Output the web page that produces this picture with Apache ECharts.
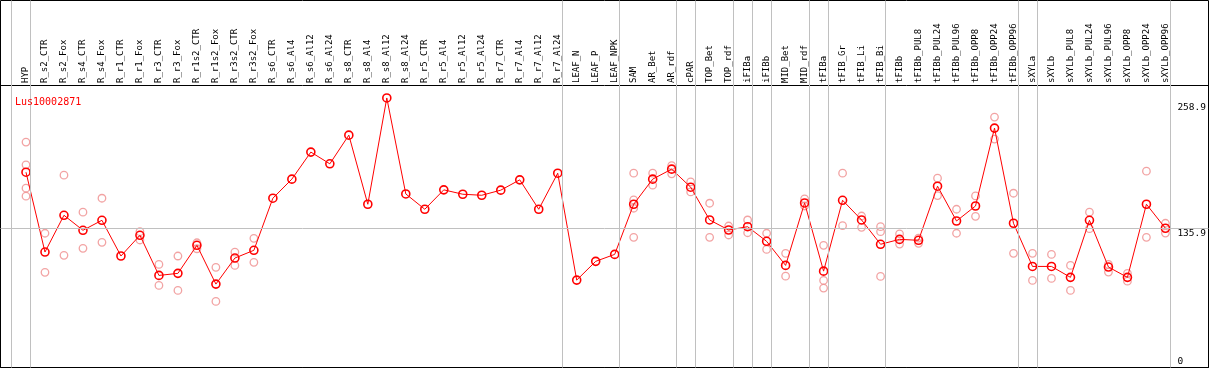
<!DOCTYPE html>
<html>
<head>
<meta charset="utf-8">
<script src="https://cdn.jsdelivr.net/npm/echarts@6/dist/echarts.min.js"></script>
<style>
html,body{margin:0;padding:0;background:#fff;}
#chart{width:1209px;height:370px;}
</style>
</head>
<body>
<div id="chart"></div>
<script>
const geneName = 'Lus10002871';
const categories = ['HYP','R_s2_CTR','R_s2_Fox','R_s4_CTR','R_s4_Fox','R_r1_CTR','R_r1_Fox','R_r3_CTR','R_r3_Fox','R_r1s2_CTR','R_r1s2_Fox','R_r3s2_CTR','R_r3s2_Fox','R_s6_CTR','R_s6_Al4','R_s6_Al12','R_s6_Al24','R_s8_CTR','R_s8_Al4','R_s8_Al12','R_s8_Al24','R_r5_CTR','R_r5_Al4','R_r5_Al12','R_r5_Al24','R_r7_CTR','R_r7_Al4','R_r7_Al12','R_r7_Al24','LEAF_N','LEAF_P','LEAF_NPK','SAM','AR_Bet','AR_rdf','cPAR','TOP_Bet','TOP_rdf','iFIBa','iFIBb','MID_Bet','MID_rdf','tFIBa','tFIB_Gr','tFIB_Li','tFIB_Bi','tFIBb','tFIBb_PUL8','tFIBb_PUL24','tFIBb_PUL96','tFIBb_OPP8','tFIBb_OPP24','tFIBb_OPP96','sXYLa','sXYLb','sXYLb_PUL8','sXYLb_PUL24','sXYLb_PUL96','sXYLb_OPP8','sXYLb_OPP24','sXYLb_OPP96'];
const means = [190.8,112.6,148.6,133.9,143.7,108.7,129.0,89.7,91.7,119.2,81.2,106.7,114.3,165.3,184.0,210.5,199.0,227.1,159.4,263.5,169.5,154.5,173.5,169.2,168.2,173.2,183.3,154.5,189.8,85.1,103.5,110.3,159.4,184.0,193.8,176.1,144.0,134.2,137.4,123.1,99.5,160.7,93.9,163.3,144.0,120.2,125.0,124.1,177.1,143.0,157.7,234.0,140.8,98.5,98.5,87.8,143.7,97.9,87.8,159.4,135.9];
const replicates = [[220.3,198,175.1,167.3],[131,92.7],[187.9,109.4],[151.6,116.2],[165.3,122.1],[],[132.5,124.4],[100.5,79.9],[108.7,75],[121.7,115.8],[97.6,64.2],[112.6,99.5],[126,102.5],[],[],[],[],[],[],[],[],[],[],[],[],[],[],[],[],[],[],[],[189.8,163.6,155.5,127],[189.8,178.1],[197.3,189.2],[181.3,171.5],[160.4,127],[138.1,129.3],[144,131.5],[131,115.2],[111.3,89],[164.6,157.7],[119.2,84.8,77.3],[189.8,138.4],[147.9,136.8],[137.4,132.5,88.7],[130.3,120.4],[126.3,121.1],[184.9,167.9],[154.5,131],[167.6,147.6],[244.8,223.2],[170.2,111.3],[111.3,84.8],[110.3,86.8],[99.5,75],[151.6,135.5],[100.5,93],[91.7,84.1],[191.8,127],[140.8,131.2]];
const yLabelValues = [135.9, 258.9];
const yZeroLabel = [0];
const refLineValue = 135.9;
// index of last category in each group (separator drawn just after its label)
const groupEnds = [-1,0,28,31,34,35,37,38,39,41,42,45,52,53,60];

const meanData = means.map((v,i)=>[i,v]);
const repData = [];
replicates.forEach((arr,i)=>arr.forEach(v=>repData.push([i,v])));

const mono = 'DejaVu Sans Mono';
const chart = echarts.init(document.getElementById('chart'), null, {renderer:'canvas'});
chart.setOption({
  animation:false,
  backgroundColor:'#fff',
  title:{text:geneName,left:10,top:92,textStyle:{color:'#ff0000',fontSize:10,fontFamily:mono,fontWeight:'normal'}},
  grid:[
    {left:7,right:5,top:85,bottom:3,show:false},
    {left:0.5,right:0.5,top:0.5,bottom:2.5,show:true,borderColor:'#000',borderWidth:1,backgroundColor:'transparent'},
    {left:0.5,right:0.5,top:85.5,bottom:2.5,show:true,borderColor:'#000',borderWidth:1,backgroundColor:'transparent'}
  ],
  xAxis:[
    {gridIndex:0,type:'value',position:'top',min:-1,max:62,interval:1,
     axisLine:{show:false},axisTick:{show:false},splitLine:{show:false},
     axisLabel:{rotate:90,margin:2,fontSize:9,fontFamily:mono,color:'#000',
       formatter:v=>categories[v]!==undefined?categories[v]:''}},
    {gridIndex:1,type:'value',min:-1.2895,max:62.2368,show:false,splitLine:{show:false}},
    {gridIndex:2,type:'value',min:0,max:1,show:false,splitLine:{show:false}}
  ],
  yAxis:[
    {gridIndex:0,type:'value',position:'right',min:0,max:276.2,
     axisLine:{show:false},axisTick:{show:false},splitLine:{show:false},
     axisLabel:{inside:true,customValues:yLabelValues,align:'left',verticalAlign:'top',margin:26,fontSize:9.5,fontFamily:mono,color:'#000'}},
    {gridIndex:0,type:'value',position:'right',min:0,max:276.2,
     axisLine:{show:false},axisTick:{show:false},splitLine:{show:false},
     axisLabel:{inside:true,customValues:yZeroLabel,align:'left',verticalAlign:'bottom',margin:26,fontSize:9.5,fontFamily:mono,color:'#000'}},
    {gridIndex:1,type:'value',min:0,max:359.4,show:false,splitLine:{show:false}},
    {gridIndex:2,type:'value',min:0,max:1,show:false,splitLine:{show:false}}
  ],
  series:[
    {type:'line',xAxisIndex:1,yAxisIndex:2,data:[],silent:true,z:1,
     markLine:{silent:true,symbol:['none','none'],label:{show:false},
       lineStyle:{color:'#c0c0c0',width:1,type:'solid'},
       data:groupEnds.map(g=>({xAxis:g+0.25})).concat([{yAxis:refLineValue}])}},
    {type:'scatter',xAxisIndex:0,yAxisIndex:0,data:repData,symbol:'circle',symbolSize:7.5,z:3,
     itemStyle:{color:'rgba(0,0,0,0)',borderColor:'#ef8c8c',borderWidth:1.3}},
    {type:'line',xAxisIndex:0,yAxisIndex:0,data:meanData,symbol:'circle',symbolSize:8,z:4,
     lineStyle:{color:'#ff0000',width:1},
     itemStyle:{color:'rgba(0,0,0,0)',borderColor:'#ff0000',borderWidth:1.6}}
  ]
});
</script>
</body>
</html>
